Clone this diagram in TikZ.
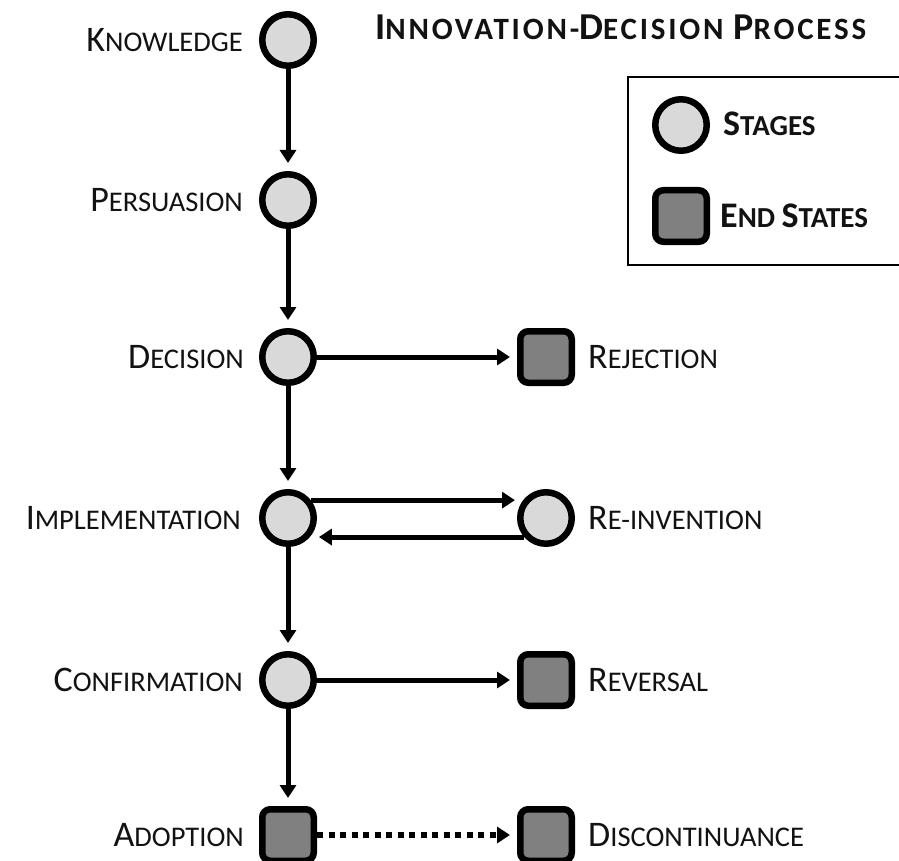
\documentclass[tikz,border=0pt]{standalone}
\usepackage{fontspec}
\setmainfont{Carlito}
\usetikzlibrary{arrows.meta}
\definecolor{stagefill}{HTML}{D9D9D9}
\definecolor{endfill}{HTML}{808080}
\newcommand{\Cap}[2]{{\fontsize{36}{40}\selectfont #1}{\fontsize{28.5}{30}\selectfont #2}}
\newcommand{\BCap}[2]{{\fontsize{36}{40}\selectfont #1}{\fontsize{29}{30}\selectfont #2}}
\newcommand{\TCap}[2]{{\fontsize{38}{40}\selectfont #1}{\fontsize{31}{32}\selectfont #2}}
\begin{document}
\begin{tikzpicture}[x=1pt,y=-1pt,
  stage/.style={circle,draw=black,line width=6.5pt,fill=stagefill,minimum size=51.5pt,inner sep=0pt},
  endst/.style={rectangle,rounded corners=8pt,draw=black,line width=6.5pt,fill=endfill,minimum size=51.5pt,inner sep=0pt},
  conn/.style={line width=5pt,-{Triangle[length=13pt,width=16pt]}},
  lbl/.style={inner sep=0pt,text=black!93},
  leftlbl/.style={lbl,anchor=base east},
  rightlbl/.style={lbl,anchor=base west}]
\useasboundingbox (0,0) rectangle (899,861);
\clip (0,0) rectangle (899,861);
% main column
\node[stage] (know) at (288,40) {};
\node[stage] (pers) at (288,200) {};
\node[stage] (dec) at (288,357) {};
\node[stage] (impl) at (288,518) {};
\node[stage] (conf) at (288,680) {};
\node[endst] (adop) at (288,835) {};
% right column
\node[endst] (rej) at (546,357) {};
\node[stage] (reinv) at (546,518) {};
\node[endst] (rev) at (546,680) {};
\node[endst] (disc) at (546,835) {};
% labels
\node[leftlbl] (lknow) at (243,51.5) {\Cap{K}{NOWLEDGE}};
\node[leftlbl] (lpers) at (243,211.5) {\Cap{P}{ERSUASION}};
\node[leftlbl] (ldec) at (244,368.5) {\Cap{D}{ECISION}};
\node[leftlbl] (limpl) at (241,529.5) {\Cap{I}{MPLEMENTATION}};
\node[leftlbl] (lconf) at (243,691.5) {\Cap{C}{ONFIRMATION}};
\node[leftlbl] (ladop) at (244,846.5) {\Cap{A}{DOPTION}};
\node[rightlbl] (lrej) at (588,368.5) {\Cap{R}{EJECTION}};
\node[rightlbl] (lreinv) at (588,529.5) {\Cap{R}{E-INVENTION}};
\node[rightlbl] (lrev) at (588,691.5) {\Cap{R}{EVERSAL}};
\node[rightlbl] (ldisc) at (588,846.5) {\Cap{D}{ISCONTINUANCE}};
% title
\node[lbl,anchor=base west] (title) at (375,40) {\bfseries\addfontfeature{LetterSpace=9}\fontsize{31}{32}\selectfont\TCap{I}{NNOVATION}-\TCap{D}{ECISION} \TCap{P}{ROCESS}};
% legend
\draw[line width=2.5pt] (930,77) -- (628,77) -- (628,265) -- (930,265);
\node[stage] (lgstage) at (681,125) {};
\node[endst] (lgend) at (681,216) {};
\node[lbl,anchor=base west] (lgstagetxt) at (723,136) {\bfseries\fontsize{29}{30}\selectfont\BCap{S}{TAGES}};
\node[lbl,anchor=base west] (lgendtxt) at (720,227) {\bfseries\fontsize{29}{30}\selectfont\BCap{E}{ND} \BCap{S}{TATES}};
% connectors
\draw[conn,shorten >=8pt] (know.south) -- (pers.north);
\draw[conn,shorten >=8pt] (pers.south) -- (dec.north);
\draw[conn,shorten >=8pt] (dec.south) -- (impl.north);
\draw[conn,shorten >=8pt] (impl.south) -- (conf.north);
\draw[conn,shorten >=8pt] (conf.south) -- (adop.north);
\draw[conn,shorten >=7pt] (dec.east) -- (rej.west);
\draw[conn,shorten >=7pt] (conf.east) -- (rev.west);
\draw[conn,shorten >=2pt] (impl.38) -- (impl.38 -| reinv.west);
\draw[conn,shorten >=9pt] (reinv.221) -- (reinv.221 -| impl.-41);
\draw[line width=5.5pt,dash pattern=on 6pt off 5.5pt,shorten >=14pt] (adop.east) -- (disc.west);
\draw[conn,shorten >=7pt] ([xshift=-16pt]disc.west) -- (disc.west);
\end{tikzpicture}
\end{document}
